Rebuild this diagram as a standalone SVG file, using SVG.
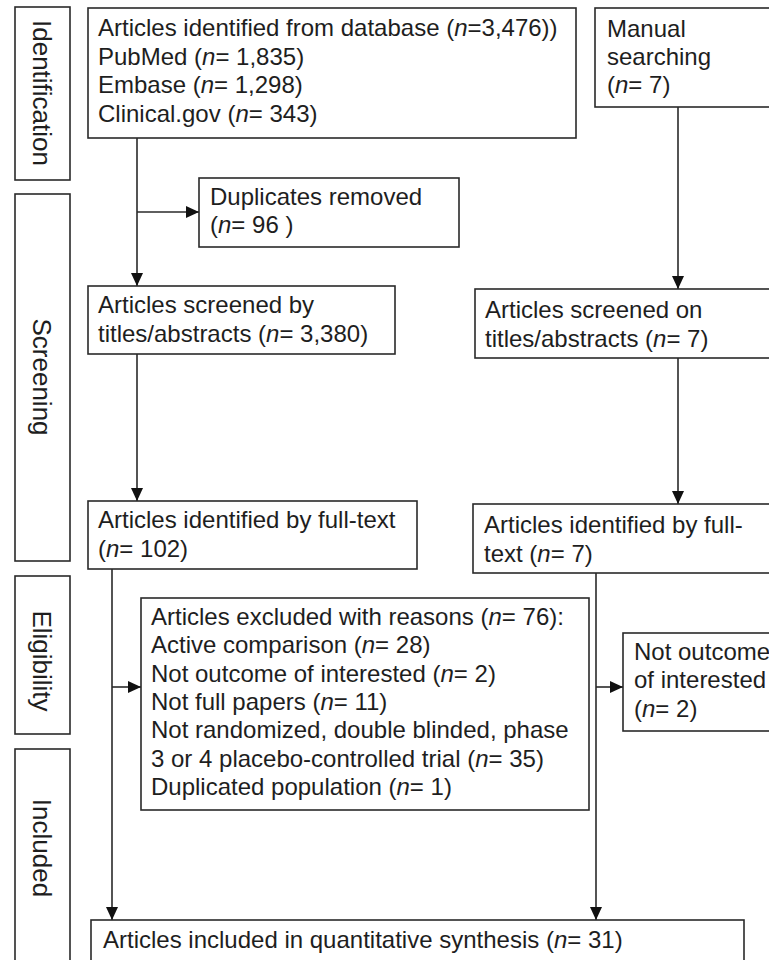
<svg xmlns="http://www.w3.org/2000/svg" width="769" height="960" viewBox="0 0 769 960">
<defs>
<style>
.box{fill:#fff;stroke:#2a2a2a;stroke-width:1.6}
.t{font-family:"Liberation Sans",Arial,sans-serif;font-size:24px;fill:#1e1e1e}
.side{font-family:"Liberation Sans",Arial,sans-serif;font-size:26px;fill:#1e1e1e;text-anchor:middle}
.i{font-style:italic}
.c{fill:none;stroke:#2a2a2a;stroke-width:1.6}
</style>
<marker id="ah" markerUnits="userSpaceOnUse" markerWidth="14" markerHeight="14" viewBox="0 0 14 14" refX="13" refY="7" orient="auto">
<path d="M0,1 L13,7 L0,13 Z" fill="#111"/>
</marker>
</defs>
<rect width="769" height="960" fill="#fff"/>

<g id="side-identification">
<rect class="box" x="15" y="7" width="55" height="173"/>
<text class="side" transform="translate(33,93) rotate(90)">Identification</text>
</g>
<g id="side-screening">
<rect class="box" x="15" y="194" width="55" height="367"/>
<text class="side" transform="translate(33,377) rotate(90)">Screening</text>
</g>
<g id="side-eligibility">
<rect class="box" x="15" y="576" width="55" height="158"/>
<text class="side" transform="translate(33,661) rotate(90)">Eligibility</text>
</g>
<g id="side-included">
<rect class="box" x="15" y="749" width="55" height="220"/>
<text class="side" transform="translate(33,848) rotate(90)">Included</text>
</g>

<g id="connectors">
<line class="c" x1="137" y1="138" x2="137" y2="286" marker-end="url(#ah)"/>
<line class="c" x1="137" y1="212" x2="199" y2="212" marker-end="url(#ah)"/>
<line class="c" x1="678" y1="107" x2="678" y2="289" marker-end="url(#ah)"/>
<line class="c" x1="137" y1="354" x2="137" y2="501" marker-end="url(#ah)"/>
<line class="c" x1="678" y1="358" x2="678" y2="504" marker-end="url(#ah)"/>
<line class="c" x1="112" y1="569" x2="112" y2="920" marker-end="url(#ah)"/>
<line class="c" x1="112" y1="687" x2="141" y2="687" marker-end="url(#ah)"/>
<line class="c" x1="596" y1="573" x2="596" y2="920" marker-end="url(#ah)"/>
<line class="c" x1="596" y1="687" x2="623" y2="687" marker-end="url(#ah)"/>
</g>

<g id="db-identified">
<rect class="box" x="88" y="8" width="488" height="130"/>
<text class="t" x="98" y="36">Articles identified from database (<tspan class="i">n</tspan>=3,476))</text>
<text class="t" x="98" y="65">PubMed (<tspan class="i">n</tspan>= 1,835)</text>
<text class="t" x="98" y="93">Embase (<tspan class="i">n</tspan>= 1,298)</text>
<text class="t" x="98" y="122">Clinical.gov (<tspan class="i">n</tspan>= 343)</text>
</g>

<g id="manual">
<rect class="box" x="595" y="8" width="190" height="99"/>
<text class="t" x="607" y="37">Manual</text>
<text class="t" x="607" y="65">searching</text>
<text class="t" x="607" y="93">(<tspan class="i">n</tspan>= 7)</text>
</g>

<g id="duplicates">
<rect class="box" x="199" y="178" width="260" height="69"/>
<text class="t" x="210" y="205">Duplicates removed</text>
<text class="t" x="210" y="233">(<tspan class="i">n</tspan>= 96 )</text>
</g>

<g id="screened-left">
<rect class="box" x="88" y="286" width="307" height="68"/>
<text class="t" x="98" y="313">Articles screened by</text>
<text class="t" x="98" y="342">titles/abstracts (<tspan class="i">n</tspan>= 3,380)</text>
</g>

<g id="screened-right">
<rect class="box" x="475" y="289" width="310" height="69"/>
<text class="t" x="485" y="318">Articles screened on</text>
<text class="t" x="485" y="347">titles/abstracts (<tspan class="i">n</tspan>= 7)</text>
</g>

<g id="fulltext-left">
<rect class="box" x="88" y="501" width="329" height="68"/>
<text class="t" x="98" y="528">Articles identified by full-text</text>
<text class="t" x="98" y="557">(<tspan class="i">n</tspan>= 102)</text>
</g>

<g id="fulltext-right">
<rect class="box" x="473" y="504" width="312" height="69"/>
<text class="t" x="484" y="533">Articles identified by full-</text>
<text class="t" x="484" y="562">text (<tspan class="i">n</tspan>= 7)</text>
</g>

<g id="excluded">
<rect class="box" x="141" y="598" width="448" height="212"/>
<text class="t" x="151" y="625">Articles excluded with reasons (<tspan class="i">n</tspan>= 76):</text>
<text class="t" x="151" y="653">Active comparison (<tspan class="i">n</tspan>= 28)</text>
<text class="t" x="151" y="682">Not outcome of interested (<tspan class="i">n</tspan>= 2)</text>
<text class="t" x="151" y="710">Not full papers (<tspan class="i">n</tspan>= 11)</text>
<text class="t" x="151" y="738">Not randomized, double blinded, phase</text>
<text class="t" x="151" y="767">3 or 4 placebo-controlled trial (<tspan class="i">n</tspan>= 35)</text>
<text class="t" x="151" y="795">Duplicated population (<tspan class="i">n</tspan>= 1)</text>
</g>

<g id="not-outcome">
<rect class="box" x="623" y="633" width="160" height="98"/>
<text class="t" x="634" y="660">Not outcome</text>
<text class="t" x="634" y="688">of interested</text>
<text class="t" x="634" y="717">(<tspan class="i">n</tspan>= 2)</text>
</g>

<g id="included">
<rect class="box" x="91" y="920" width="653" height="50"/>
<text class="t" x="103" y="948">Articles included in quantitative synthesis (<tspan class="i">n</tspan>= 31)</text>
</g>
</svg>
